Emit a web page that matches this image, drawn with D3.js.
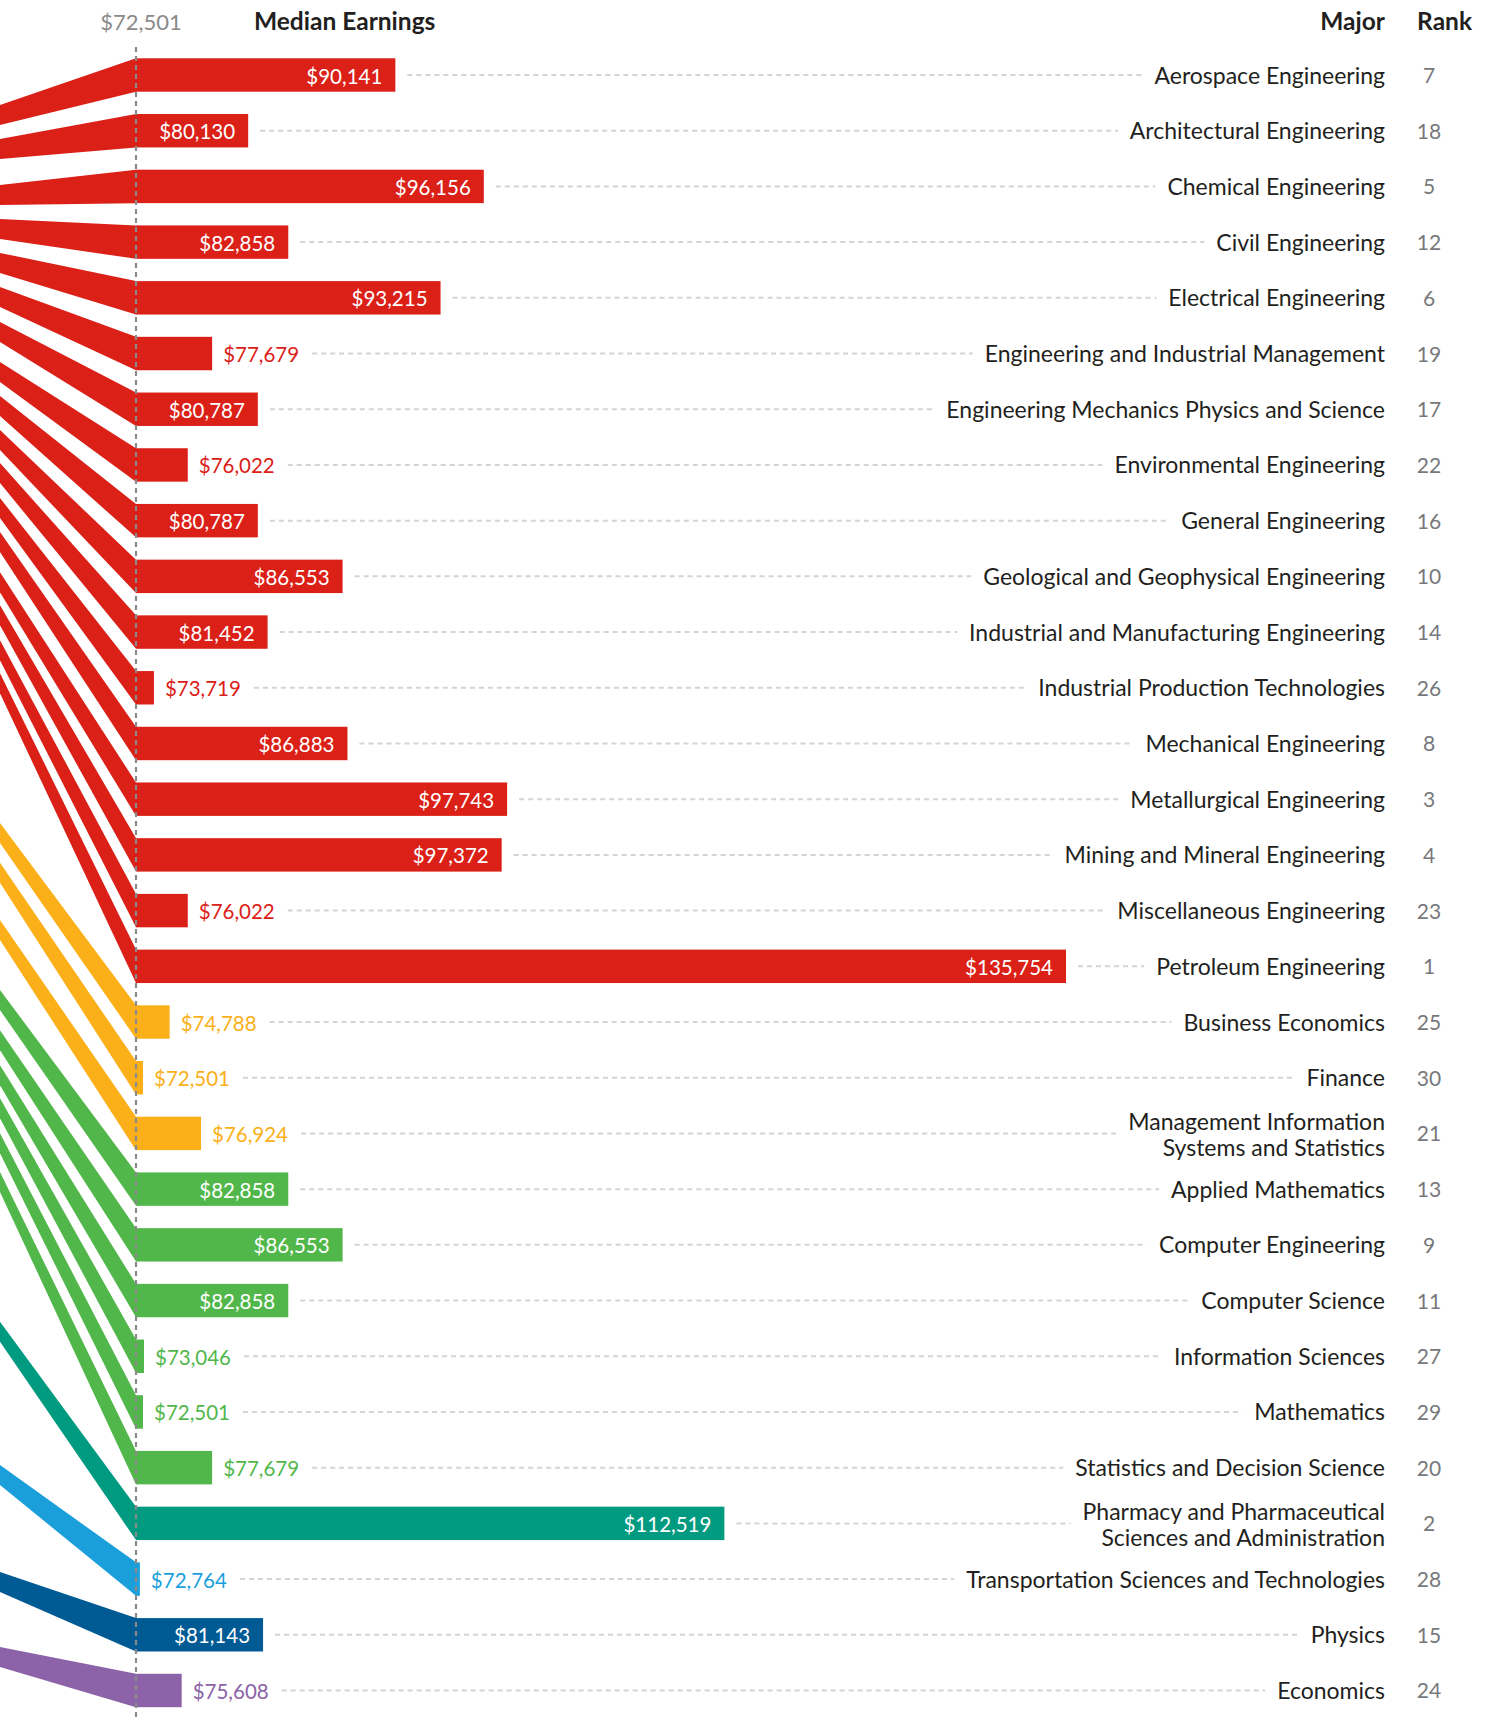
<!DOCTYPE html>
<html>
<head>
<meta charset="utf-8">
<script src="https://cdn.jsdelivr.net/npm/d3@7"></script>
<style>
  html, body { margin: 0; padding: 0; background: #ffffff; }
  svg { display: block; }
  text { font-family: Lato, "Open Sans", sans-serif; }
</style>
</head>
<body>
<div id="chart"></div>
<script>
// ---------------- data ----------------
const majors = [
  "Aerospace Engineering",
  "Architectural Engineering",
  "Chemical Engineering",
  "Civil Engineering",
  "Electrical Engineering",
  "Engineering and Industrial Management",
  "Engineering Mechanics Physics and Science",
  "Environmental Engineering",
  "General Engineering",
  "Geological and Geophysical Engineering",
  "Industrial and Manufacturing Engineering",
  "Industrial Production Technologies",
  "Mechanical Engineering",
  "Metallurgical Engineering",
  "Mining and Mineral Engineering",
  "Miscellaneous Engineering",
  "Petroleum Engineering",
  "Business Economics",
  "Finance",
  "Management Information\nSystems and Statistics",
  "Applied Mathematics",
  "Computer Engineering",
  "Computer Science",
  "Information Sciences",
  "Mathematics",
  "Statistics and Decision Science",
  "Pharmacy and Pharmaceutical\nSciences and Administration",
  "Transportation Sciences and Technologies",
  "Physics",
  "Economics"
];
const medianEarnings = [
  90141, 80130, 96156, 82858, 93215, 77679, 80787, 76022, 80787, 86553,
  81452, 73719, 86883, 97743, 97372, 76022, 135754,
  74788, 72501, 76924,
  82858, 86553, 82858, 73046, 72501, 77679,
  112519, 72764, 81143, 75608
];
const ranks = [
  7, 18, 5, 12, 6, 19, 17, 22, 16, 10,
  14, 26, 8, 3, 4, 23, 1,
  25, 30, 21,
  13, 9, 11, 27, 29, 20,
  2, 28, 15, 24
];
const groups = [
  "Engineering","Engineering","Engineering","Engineering","Engineering","Engineering",
  "Engineering","Engineering","Engineering","Engineering","Engineering","Engineering",
  "Engineering","Engineering","Engineering","Engineering","Engineering",
  "Business","Business","Business",
  "Computers & Mathematics","Computers & Mathematics","Computers & Mathematics",
  "Computers & Mathematics","Computers & Mathematics","Computers & Mathematics",
  "Health",
  "Industrial Arts & Consumer Services",
  "Physical Sciences",
  "Social Science"
];
// slot of each major in the linked (off-page) column on the left
const linkSlot = [
  0, 1, 2.35, 3.35, 4.35, 5.35, 6.38, 7.56, 8.56, 9.56,
  10.53, 11.56, 12.56, 13.74, 14.71, 15.74, 16.71,
  21.12, 22.29, 23.97,
  26.03, 27.21, 28.24, 29.21, 30.24, 31.38,
  35.79, 40.0, 43.15, 45.35
];
const groupNames = ["Engineering","Business","Computers & Mathematics","Health",
  "Industrial Arts & Consumer Services","Physical Sciences","Social Science"];
const groupColors = ["#DB2018","#FBB01A","#52B74A","#009A80","#1A9FDB","#005A94","#8C62A8"];
const baselineValue = 72501;
const maxValue = 135754;

const rows = majors.map((m, i) => ({
  major: m, value: medianEarnings[i], rank: ranks[i], group: groups[i], slot: linkSlot[i]
}));

// ---------------- layout ----------------
const W = 1489, H = 1718;
const axisX = 136;
const labelRight = 1385;
const rankX = 1429;

const svg = d3.select("#chart").append("svg")
  .attr("width", W).attr("height", H);

const color = d3.scaleOrdinal().domain(groupNames).range(groupColors);
const x = d3.scaleLinear().domain([baselineValue, maxValue]).range([axisX, 1066]);
const y = d3.scaleBand().domain(d3.range(rows.length))
  .range([47.15, 1718.35]).paddingInner(0.4).paddingOuter(0.2);
const ySrc = d3.scaleLinear().domain([0, 1]).range([115, 149]);
const srcHalf = 10;
const fmt = v => "$" + d3.format(",")(v);

// ribbons to the left
svg.append("g").selectAll("path").data(rows).join("path")
  .attr("fill", d => color(d.group))
  .attr("d", (d, i) => {
    const t = y(i), b = y(i) + y.bandwidth();
    const c = ySrc(d.slot);
    return d3.line()([[0, c - srcHalf], [axisX, t], [axisX, b], [0, c + srcHalf]]) + "Z";
  });

// bars
const barW = d => {
  const w = x(d.value) - x(baselineValue);
  return w < 1 ? 7 : w;
};
svg.append("g").selectAll("rect").data(rows).join("rect")
  .attr("x", axisX)
  .attr("y", (d, i) => y(i))
  .attr("width", barW)
  .attr("height", y.bandwidth())
  .attr("fill", d => color(d.group));

// value labels
const inside = d => barW(d) > 100;
const valLabels = svg.append("g").selectAll("text").data(rows).join("text")
  .attr("x", d => inside(d) ? axisX + barW(d) - 13 : axisX + barW(d) + 11)
  .attr("y", (d, i) => y(i) + y.bandwidth() / 2 + 8.5)
  .attr("text-anchor", d => inside(d) ? "end" : "start")
  .attr("fill", d => inside(d) ? "#ffffff" : color(d.group))
  .attr("font-size", 20.5)
  .text(d => fmt(d.value));

// major labels
const majorLabels = svg.append("g").selectAll("text").data(rows).join("text")
  .attr("x", labelRight)
  .attr("y", (d, i) => y(i) + y.bandwidth() / 2)
  .attr("text-anchor", "end")
  .attr("fill", "#231f20")
  .attr("font-size", 23);
majorLabels.each(function(d) {
  const lines = d.major.split("\n");
  const t = d3.select(this);
  if (lines.length === 1) {
    t.append("tspan").attr("x", labelRight).attr("dy", 8.5).text(lines[0]);
  } else {
    t.append("tspan").attr("x", labelRight).attr("dy", -3).text(lines[0]);
    t.append("tspan").attr("x", labelRight).attr("dy", 26).text(lines[1]);
  }
});

// dotted leader lines
const valNodes = valLabels.nodes();
const majNodes = majorLabels.nodes();
svg.insert("g", ":first-child").selectAll("line").data(rows).join("line")
  .attr("x1", (d, i) => {
    const bb = valNodes[i].getBBox();
    return inside(d) ? axisX + barW(d) + 12 : bb.x + bb.width + 13;
  })
  .attr("x2", (d, i) => majNodes[i].getBBox().x - 12)
  .attr("y1", (d, i) => y(i) + y.bandwidth() / 2)
  .attr("y2", (d, i) => y(i) + y.bandwidth() / 2)
  .attr("stroke", "#d4d4d4")
  .attr("stroke-width", 2)
  .attr("stroke-dasharray", "5,4");

// ranks
svg.append("g").selectAll("text").data(rows).join("text")
  .attr("x", rankX)
  .attr("y", (d, i) => y(i) + y.bandwidth() / 2 + 8)
  .attr("text-anchor", "middle")
  .attr("fill", "#77787b")
  .attr("font-size", 21)
  .text(d => d.rank);

// baseline axis
svg.append("line")
  .attr("x1", axisX).attr("x2", axisX)
  .attr("y1", 47).attr("y2", H)
  .attr("stroke", "#8a8a8a")
  .attr("stroke-width", 2.2)
  .attr("stroke-dasharray", "5,4");

// headers
svg.append("text").attr("x", axisX + 5).attr("y", 30)
  .attr("text-anchor", "middle").attr("fill", "#8a8a8a").attr("font-size", 22)
  .text(fmt(baselineValue));
svg.append("text").attr("x", 254).attr("y", 30)
  .attr("fill", "#231f20").attr("font-size", 24.5).attr("font-weight", "bold")
  .text("Median Earnings");
svg.append("text").attr("x", labelRight).attr("y", 30).attr("text-anchor", "end")
  .attr("fill", "#231f20").attr("font-size", 24.5).attr("font-weight", "bold")
  .text("Major");
svg.append("text").attr("x", 1472).attr("y", 30).attr("text-anchor", "end")
  .attr("fill", "#231f20").attr("font-size", 24.5).attr("font-weight", "bold")
  .text("Rank");
</script>
</body>
</html>
